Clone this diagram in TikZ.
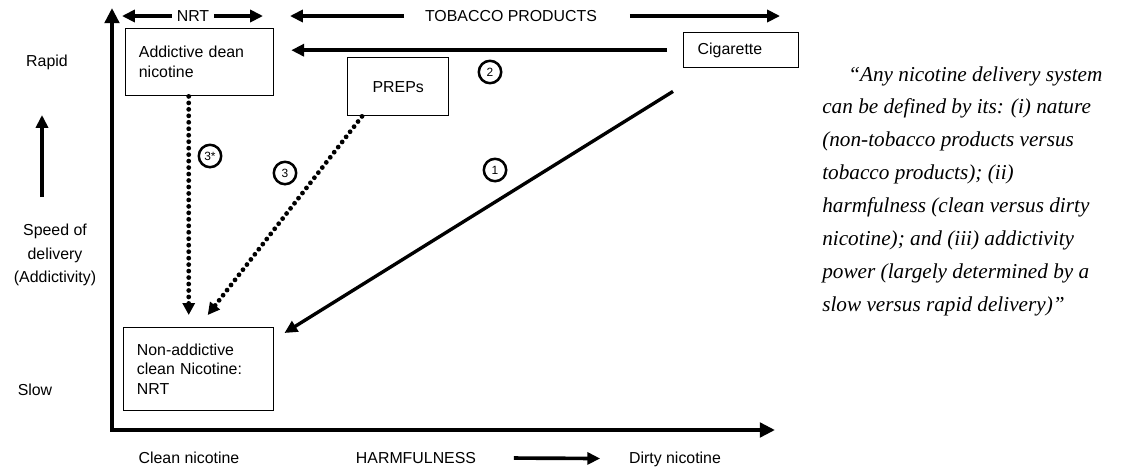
\documentclass[tikz,border=0pt]{standalone}
\usepackage{fontspec}
\setmainfont{Liberation Sans}
\newfontfamily\quotefont{Liberation Serif}
\usetikzlibrary{arrows.meta}
\tikzstyle{diagbox}=[draw,line width=1pt,inner xsep=0.33cm,align=left]
\tikzstyle{axis}=[line width=3.1pt,{Triangle[length=0.38cm,width=0.36cm]}-{Triangle[length=0.38cm,width=0.36cm]}]
\tikzstyle{catarrow}=[line width=2.6pt,-{Triangle[length=0.32cm,width=0.3cm]}]
\tikzstyle{dotarrow}=[line width=3.4pt,line cap=round,dash pattern=on 0pt off 4.6pt,-{Triangle[length=0.3cm,width=0.3cm]}]
\tikzstyle{numcircle}=[circle,draw,line width=1.8pt,minimum size=0.56cm,inner sep=0pt,font=\fontsize{8.5}{9}\selectfont]
\newcommand{\labelfont}{\fontsize{11.3}{14.2}\selectfont}
\newcommand{\circlednum}[3]{ % name, position, number
\node[numcircle] (#1) at (#2) {#3};
}

\begin{document}
\begin{tikzpicture}[x=0.025cm,y=-0.025cm,font=\labelfont]
  \useasboundingbox (0,0) rectangle (1123,469);
  % axes
  \coordinate (origin) at (112,430);
  \coordinate (ytop) at (112,8);
  \coordinate (xend) at (775,430);
  \draw[axis] (ytop) -- (origin) -- (xend);
  % boxes
  \node[diagbox,minimum width=3.7cm,minimum height=1.675cm,text width=3.04cm,anchor=north west] (addictive) at (125,28) {Addictive dean\\nicotine};
  \node[diagbox,minimum width=2.525cm,minimum height=1.45cm,align=center,anchor=north west] (preps) at (347,57) {PREPs};
  \node[diagbox,minimum width=2.875cm,minimum height=0.875cm,text width=2.175cm,inner xsep=0.35cm,anchor=north west] (cig) at (683,32) {Cigarette};
  \node[diagbox,minimum width=3.75cm,minimum height=2.075cm,text width=3.09cm,anchor=north west] (nonaddictive) at (123,327) {Non-addictive\\clean Nicotine:\\NRT};
  % top categories
  \node (nrt) at (193,16) {NRT};
  \coordinate (nrtleft) at (122,16);
  \coordinate (nrtright) at (263,16);
  \draw[catarrow] (nrt.west) -- (nrtleft);
  \draw[catarrow] (nrt.east) -- (nrtright);
  \node (tobacco) at (511,16) {TOBACCO PRODUCTS};
  \coordinate (tobleft) at (290,16);
  \coordinate (tobright) at (780,16);
  \draw[catarrow,shorten <=0.4cm] (tobacco.west) -- (tobleft);
  \draw[catarrow,shorten <=0.7cm] (tobacco.east) -- (tobright);
  % transitions
  \draw[catarrow,shorten <=0.4cm,shorten >=0.42cm] (cig.west) -- (cig.west -| addictive.east);
  \draw[dotarrow] ([xshift=-0.275cm]addictive.south) -- ([xshift=-0.275cm,yshift=0.3cm]addictive.south |- nonaddictive.north);
  \draw[dotarrow] ([xshift=0.375cm]preps.south west) -- ([xshift=0.225cm,yshift=0.3cm]nonaddictive.north);
  \draw[catarrow,line width=2.4pt] ([xshift=-0.25cm,yshift=-0.575cm]cig.south west) -- ([xshift=0.25cm,yshift=-0.15cm]nonaddictive.north east);
  \circlednum{numtwo}{490,72}{2}
  \circlednum{numone}{495,170}{1}
  \circlednum{numthree}{285,173}{3}
  \circlednum{numthreestar}{210,156}{3*}
  % vertical axis labels
  \node (rapid) at (47,62) {Rapid};
  \node[align=center,font=\fontsize{11.3}{16.5}\selectfont] (speed) at (55,255) {Speed of\\delivery\\(Addictivity)};
  \node (slow) at (35,390) {Slow};
  \coordinate (speedbase) at (42,197);
  \coordinate (speedtip) at (42,115);
  \draw[catarrow] (speedbase) -- (speedtip);
  % horizontal axis labels
  \node[anchor=base] (clean) at (189,463) {Clean nicotine};
  \node[anchor=base] (harm) at (416,463) {HARMFULNESS};
  \node[anchor=base] (dirty) at (675,463) {Dirty nicotine};
  \draw[catarrow,shorten <=0.82cm,shorten >=0.6cm] (harm) -- (dirty);
  % quote
  \node[anchor=north west,align=left,inner sep=0pt,font=\quotefont\itshape\fontsize{15.1}{23.4}\selectfont] (quote) at (822,66) {\hspace*{0.65cm}“Any nicotine delivery system\\can be defined by its: (i) nature\\(non-tobacco products versus\\tobacco products); (ii)\\harmfulness (clean versus dirty\\nicotine); and (iii) addictivity\\power (largely determined by a\\slow versus rapid delivery)”};
\end{tikzpicture}
\end{document}
